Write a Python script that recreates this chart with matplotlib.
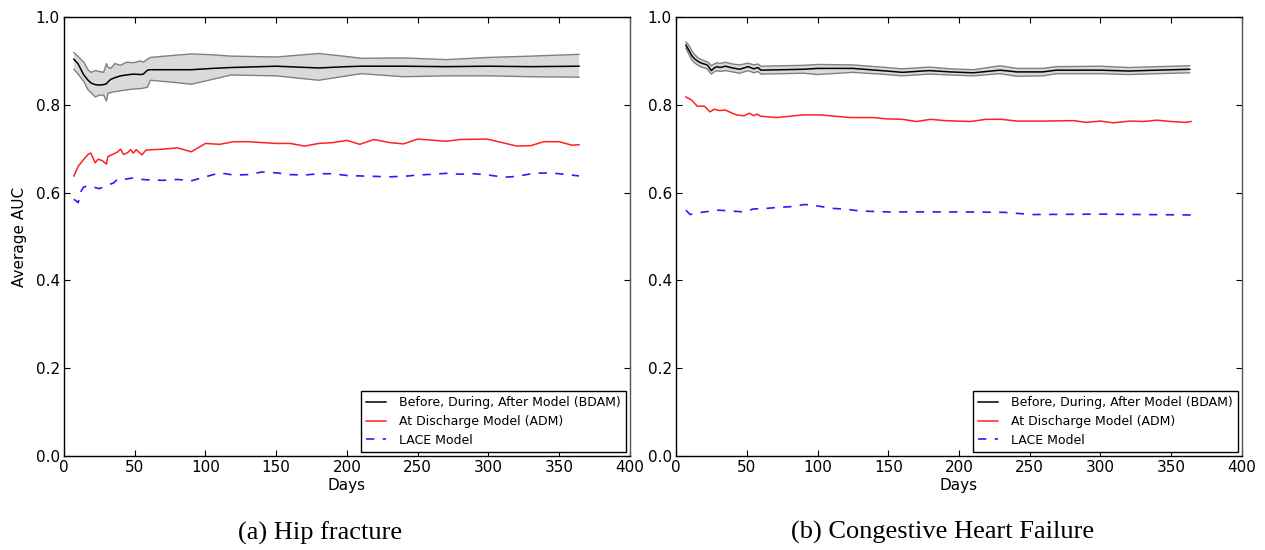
import matplotlib
matplotlib.use("Agg")
import matplotlib.pyplot as plt

# ---- data ----
# (a) Hip fracture
hip_bdam_days = [7, 10, 14, 17, 19, 22, 25, 28, 30, 31, 33, 36, 40, 44, 49, 54, 56, 59, 61,
                 75, 90, 105, 118, 150, 180, 200, 210, 240, 270, 300, 330, 364]
hip_bdam_mean = [0.904, 0.893, 0.868, 0.856, 0.850, 0.846, 0.845, 0.846, 0.848, 0.852, 0.858,
                 0.862, 0.866, 0.868, 0.870, 0.869, 0.870, 0.879, 0.880, 0.880, 0.880, 0.883,
                 0.885, 0.888, 0.884, 0.887, 0.888, 0.888, 0.887, 0.888, 0.887, 0.888]
hip_bdam_upper = [0.919, 0.910, 0.897, 0.880, 0.874, 0.878, 0.876, 0.874, 0.894, 0.886, 0.883,
                  0.894, 0.890, 0.897, 0.896, 0.900, 0.897, 0.904, 0.908, 0.912, 0.916, 0.914,
                  0.911, 0.909, 0.917, 0.910, 0.906, 0.907, 0.903, 0.908, 0.911, 0.915]
hip_bdam_lower = [0.881, 0.870, 0.853, 0.834, 0.828, 0.818, 0.822, 0.822, 0.809, 0.826, 0.828,
                  0.830, 0.832, 0.834, 0.836, 0.837, 0.838, 0.840, 0.856, 0.852, 0.847, 0.858,
                  0.868, 0.866, 0.856, 0.866, 0.871, 0.864, 0.866, 0.866, 0.864, 0.863]

hip_adm_days = [7, 10, 14, 17, 19, 22, 24, 27, 30, 31, 35, 38, 40, 42, 45, 47, 49, 51, 53, 55,
                58, 70, 80, 90, 100, 110, 120, 130, 150, 160, 170, 180, 190, 200, 209, 219,
                230, 240, 250, 270, 280, 299, 320, 330, 339, 350, 359, 364]
hip_adm_auc = [0.638, 0.660, 0.676, 0.687, 0.690, 0.668, 0.676, 0.673, 0.665, 0.682, 0.688,
               0.693, 0.699, 0.687, 0.691, 0.698, 0.690, 0.698, 0.692, 0.686, 0.697, 0.699,
               0.702, 0.693, 0.712, 0.710, 0.716, 0.716, 0.712, 0.712, 0.706, 0.712, 0.714,
               0.719, 0.710, 0.721, 0.714, 0.711, 0.722, 0.717, 0.721, 0.722, 0.706, 0.707,
               0.716, 0.716, 0.708, 0.709]

hip_lace_days = [7, 10, 12, 14, 17, 20, 25, 30, 35, 38, 42, 46, 50, 55, 60, 70, 80, 90, 100,
                 110, 120, 130, 140, 150, 160, 170, 180, 190, 200, 209, 230, 240, 250, 262,
                 270, 280, 290, 300, 311, 320, 332, 342, 350, 364]
hip_lace_auc = [0.585, 0.577, 0.603, 0.613, 0.615, 0.613, 0.609, 0.616, 0.622, 0.631, 0.630,
                0.632, 0.634, 0.630, 0.629, 0.628, 0.630, 0.627, 0.636, 0.645, 0.640, 0.641,
                0.647, 0.645, 0.641, 0.640, 0.643, 0.643, 0.639, 0.638, 0.636, 0.637, 0.640,
                0.642, 0.644, 0.642, 0.643, 0.640, 0.635, 0.637, 0.644, 0.645, 0.643, 0.638]

# (b) Congestive Heart Failure
chf_bdam_days = [7, 9, 11, 13, 16, 18, 22, 23, 25, 27, 29, 31, 35, 40, 45, 51, 55, 58, 60,
                 90, 100, 125, 149, 160, 179, 194, 210, 229, 241, 259, 269, 300, 320, 340, 363]
chf_bdam_mean = [0.936, 0.925, 0.913, 0.905, 0.898, 0.895, 0.891, 0.887, 0.878, 0.884, 0.887,
                 0.885, 0.888, 0.884, 0.881, 0.887, 0.882, 0.885, 0.879, 0.881, 0.883, 0.883,
                 0.877, 0.874, 0.878, 0.875, 0.873, 0.879, 0.875, 0.875, 0.879, 0.879, 0.877,
                 0.879, 0.881]
chf_bdam_upper = [0.943, 0.936, 0.924, 0.915, 0.906, 0.903, 0.898, 0.896, 0.889, 0.893, 0.896,
                  0.894, 0.897, 0.893, 0.891, 0.895, 0.891, 0.893, 0.888, 0.890, 0.892, 0.891,
                  0.885, 0.882, 0.886, 0.882, 0.880, 0.889, 0.883, 0.883, 0.887, 0.888, 0.885,
                  0.887, 0.889]
chf_bdam_lower = [0.929, 0.916, 0.903, 0.896, 0.889, 0.886, 0.882, 0.878, 0.870, 0.875, 0.878,
                  0.876, 0.878, 0.875, 0.872, 0.878, 0.873, 0.876, 0.870, 0.872, 0.869, 0.874,
                  0.869, 0.866, 0.870, 0.868, 0.866, 0.871, 0.865, 0.866, 0.871, 0.871, 0.869,
                  0.871, 0.873]

chf_adm_days = [7, 11, 15, 20, 24, 27, 31, 35, 39, 43, 48, 52, 55, 57, 60, 71, 90, 102, 123,
                139, 149, 160, 170, 180, 190, 208, 219, 230, 241, 260, 281, 290, 300, 309,
                321, 330, 340, 350, 360, 364]
chf_adm_auc = [0.818, 0.811, 0.797, 0.797, 0.784, 0.790, 0.787, 0.788, 0.782, 0.777, 0.775,
               0.781, 0.775, 0.779, 0.774, 0.771, 0.777, 0.777, 0.771, 0.771, 0.768, 0.767,
               0.762, 0.767, 0.764, 0.762, 0.767, 0.767, 0.763, 0.763, 0.764, 0.760, 0.763,
               0.759, 0.763, 0.762, 0.765, 0.762, 0.760, 0.762]

chf_lace_days = [7, 10, 16, 20, 30, 39, 48, 55, 60, 71, 81, 91, 101, 111, 121, 130, 150, 200,
                 232, 252, 300, 364]
chf_lace_auc = [0.560, 0.550, 0.554, 0.556, 0.560, 0.558, 0.556, 0.563, 0.563, 0.566, 0.568,
                0.573, 0.569, 0.564, 0.562, 0.558, 0.556, 0.556, 0.555, 0.550, 0.551, 0.549]

labels = ["Before, During, After Model (BDAM)", "At Discharge Model (ADM)", "LACE Model"]
captions = ["(a) Hip fracture", "(b) Congestive Heart Failure"]

plt.rcParams["font.family"] = "DejaVu Sans"
plt.rcParams["xtick.direction"] = "in"
plt.rcParams["ytick.direction"] = "in"
plt.rcParams["xtick.top"] = True
plt.rcParams["ytick.right"] = True

fig = plt.figure(figsize=(12.65, 5.5), dpi=100)
ax1 = fig.add_axes([0.0506, 0.171, 0.4474, 0.798])
ax2 = fig.add_axes([0.5344, 0.171, 0.4474, 0.798])

panels = [
    (ax1, hip_bdam_days, hip_bdam_mean, hip_bdam_upper, hip_bdam_lower,
     hip_adm_days, hip_adm_auc, hip_lace_days, hip_lace_auc),
    (ax2, chf_bdam_days, chf_bdam_mean, chf_bdam_upper, chf_bdam_lower,
     chf_adm_days, chf_adm_auc, chf_lace_days, chf_lace_auc),
]

for ax, bd, bm, bu, bl, ad, aa, ld, la in panels:
    ax.fill_between(bd, bl, bu, facecolor="#dadada", edgecolor="none")
    ax.plot(bd, bu, color="#808080", linewidth=1.0)
    ax.plot(bd, bl, color="#808080", linewidth=1.0)
    ax.plot(bd, bm, color="black", linewidth=1.1, label=labels[0])
    ax.plot(ad, aa, color="#ff2020", linewidth=1.1, label=labels[1])
    ax.plot(ld, la, color="#2020ff", linewidth=1.2, dashes=(5, 5), label=labels[2])

    ax.set_xlim(0, 400)
    ax.set_ylim(0.0, 1.0)
    ax.set_xticks(range(0, 401, 50))
    ax.set_yticks([0.0, 0.2, 0.4, 0.6, 0.8, 1.0])
    ax.set_yticklabels(["0.0", "0.2", "0.4", "0.6", "0.8", "1.0"])
    ax.tick_params(labelsize=11, length=4, width=0.8, pad=3)
    ax.set_xlabel("Days", fontsize=11, labelpad=2)
    for s in ax.spines.values():
        s.set_linewidth(1.0)
    ax.spines["right"].set_color("#555555")
    leg = ax.legend(loc="lower right", fontsize=9, frameon=True, fancybox=False,
                    edgecolor="black", framealpha=1.0, handlelength=1.6,
                    handletextpad=1.0, labelspacing=0.45, borderaxespad=0.3,
                    borderpad=0.45)
    leg.get_frame().set_linewidth(1.0)

ax1.set_ylabel("Average AUC", fontsize=11, labelpad=6)

fig.text(0.253, 0.031, captions[0], ha="center", va="center",
         family="Liberation Serif", fontsize=19)
fig.text(0.745, 0.031, captions[1], ha="center", va="center",
         family="Liberation Serif", fontsize=19)

fig.savefig("out.png", dpi=100)
